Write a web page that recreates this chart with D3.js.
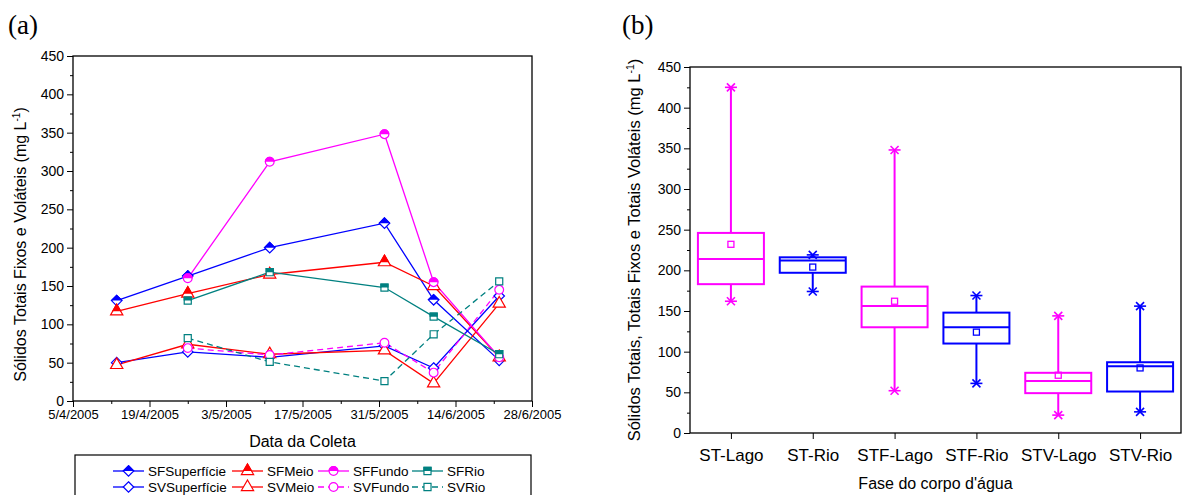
<!DOCTYPE html>
<html><head><meta charset="utf-8">
<script src="https://cdn.jsdelivr.net/npm/d3@7"></script>
<style>
body{margin:0;background:#fff;}
text{font-family:"Liberation Sans",Arial,sans-serif;fill:#000;}
</style></head>
<body><svg id="c" width="1182" height="495"></svg>
<script>
// ---------- data: panel (a) ----------
const dates = ["13/4/2005","26/4/2005","11/5/2005","1/6/2005","10/6/2005","22/6/2005"];
const dateTicks = ["5/4/2005","19/4/2005","3/5/2005","17/5/2005","31/5/2005","14/6/2005","28/6/2005"];
const SFSuperficie = [131,163,200,232,132,53];
const SVSuperficie = [50,64,57,72,43,137];
const SFMeio = [117,140,165,181,150,57];
const SVMeio = [47,74,61,66,23,127];
const SFFundo = [null,160,312,348,155,57];
const SVFundo = [null,69,60,76,37,145];
const SFRio = [null,131,168,148,110,61];
const SVRio = [null,82,51,26,87,156];
const yTicks = [0,50,100,150,200,250,300,350,400,450];

// ---------- data: panel (b) ----------
const boxCats = ["ST-Lago","ST-Rio","STF-Lago","STF-Rio","STV-Lago","STV-Rio"];
const boxMin = [162,174,52,61,22,26];
const boxQ1 = [183,197,130,110,49,51];
const boxMed = [214,212,156,130,64,82];
const boxQ3 = [246,216,180,148,74,87];
const boxMax = [425,219,348,169,144,156];
const boxMean = [232,204,162,124,71,80];

const svg = d3.select("#c");
const parse = d3.timeParse("%d/%m/%Y");
const BLUE="#0000FF", RED="#FF0000", MAG="#FF00FF", TEAL="#008080";

svg.append("defs").append("clipPath").attr("id","half").attr("clipPathUnits","userSpaceOnUse")
  .append("rect").attr("x",-10).attr("y",-10).attr("width",20).attr("height",10);

const symDiamond = {draw(ctx,size){const r=Math.sqrt(size/2);ctx.moveTo(0,-r);ctx.lineTo(r,0);ctx.lineTo(0,r);ctx.lineTo(-r,0);ctx.closePath();}};

// ---------- panel (a) ----------
const A = {l:73, r:532, t:56, b:401};
const xA = d3.scaleTime().domain([parse(dateTicks[0]), parse(dateTicks[dateTicks.length-1])]).range([A.l, A.r]);
const yA = d3.scaleLinear().domain([0,450]).range([A.b, A.t]);

svg.append("text").attr("x",8).attr("y",34).style("font-family","'Liberation Serif','Times New Roman',serif").style("font-size","27px").text("(a)");

const gA = svg.append("g");
gA.append("rect").attr("x",A.l).attr("y",A.t).attr("width",A.r-A.l).attr("height",A.b-A.t).attr("fill","none").attr("stroke","#000").attr("stroke-width",1.3);

const yAxA = gA.append("g").attr("transform",`translate(${A.l},0)`)
  .call(d3.axisLeft(yA).tickValues(yTicks).tickSize(6).tickPadding(3));
yAxA.select(".domain").remove();
yAxA.selectAll("text").style("font-size","14px").style("font-family","'Liberation Sans',Arial,sans-serif");
const yMinA = gA.append("g").attr("transform",`translate(${A.l},0)`)
  .call(d3.axisLeft(yA).tickValues(d3.range(25,450,50)).tickSize(3).tickFormat(""));
yMinA.select(".domain").remove();

const xTickDates = dateTicks.map(parse);
const xAxA = gA.append("g").attr("transform",`translate(0,${A.b})`)
  .call(d3.axisBottom(xA).tickValues(xTickDates).tickSize(6).tickPadding(3).tickFormat((d,i)=>dateTicks[i]));
xAxA.select(".domain").remove();
xAxA.selectAll("text").style("font-size","13px").style("font-family","'Liberation Sans',Arial,sans-serif");
const minorDates = xTickDates.slice(0,-1).map(d=>d3.timeDay.offset(d,7));
const xMinA = gA.append("g").attr("transform",`translate(0,${A.b})`)
  .call(d3.axisBottom(xA).tickValues(minorDates).tickSize(3).tickFormat(""));
xMinA.select(".domain").remove();

gA.append("text").attr("x",(A.l+A.r)/2).attr("y",447).attr("text-anchor","middle").style("font-size","16px").text("Data da Coleta");
const ylab = gA.append("text").attr("transform",`translate(26,${(A.t+A.b)/2+16}) rotate(-90)`).attr("text-anchor","middle").style("font-size","16px");
ylab.append("tspan").text("Sólidos Totais Fixos e Voláteis (mg L");
ylab.append("tspan").attr("dy",-6).style("font-size","10px").text("-1");
ylab.append("tspan").attr("dy",6).text(")");

const seriesA = [
  {label:"SFSuperfície", v:SFSuperficie, c:BLUE, sym:symDiamond, fill:true, dash:null, size:55},
  {label:"SVSuperfície", v:SVSuperficie, c:BLUE, sym:symDiamond, fill:false, dash:null, size:55},
  {label:"SFMeio", v:SFMeio, c:RED, sym:d3.symbolTriangle, fill:true, dash:null, size:65},
  {label:"SVMeio", v:SVMeio, c:RED, sym:d3.symbolTriangle, fill:false, dash:null, size:65},
  {label:"SFFundo", v:SFFundo, c:MAG, sym:d3.symbolCircle, fill:true, dash:null, size:60},
  {label:"SVFundo", v:SVFundo, c:MAG, sym:d3.symbolCircle, fill:false, dash:"6,4", size:60},
  {label:"SFRio", v:SFRio, c:TEAL, sym:d3.symbolSquare, fill:true, dash:null, size:50},
  {label:"SVRio", v:SVRio, c:TEAL, sym:d3.symbolSquare, fill:false, dash:"6,4", size:50}
];

function drawMarker(g, s){
  const p = d3.symbol().type(s.sym).size(s.size)();
  g.append("path").attr("d",p).attr("fill","#fff").attr("stroke",s.c).attr("stroke-width",1.2);
  if(s.fill){
    g.append("path").attr("d",p).attr("fill",s.c).attr("stroke",s.c).attr("stroke-width",1.2).attr("clip-path","url(#half)");
  }
}

const line = d3.line().defined(d=>d.v!=null).x(d=>xA(d.d)).y(d=>yA(d.v));
seriesA.forEach(s=>{
  const pts = dates.map((d,i)=>({d:parse(d), v:s.v[i]}));
  gA.append("path").attr("d",line(pts)).attr("fill","none").attr("stroke",s.c).attr("stroke-width",1.3)
    .attr("stroke-dasharray",s.dash);
});
seriesA.forEach(s=>{
  dates.forEach((d,i)=>{
    if(s.v[i]==null) return;
    const g = gA.append("g").attr("transform",`translate(${xA(parse(d))},${yA(s.v[i])})`);
    drawMarker(g,s);
  });
});

// legend
const leg = svg.append("g");
leg.append("rect").attr("x",75).attr("y",455).attr("width",456).attr("height",45).attr("fill","#fff").attr("stroke","#000").attr("stroke-width",1.2);
const legCols = [113,232,318,412];
const legRows = [471,487];
seriesA.forEach((s,i)=>{
  const col = Math.floor(i/2), row = i%2;
  const x0 = legCols[col], y0 = legRows[row];
  leg.append("line").attr("x1",x0).attr("x2",x0+31).attr("y1",y0).attr("y2",y0).attr("stroke",s.c).attr("stroke-width",1.3).attr("stroke-dasharray",s.dash);
  const g = leg.append("g").attr("transform",`translate(${x0+15.5},${y0})`);
  drawMarker(g,s);
  leg.append("text").attr("x",x0+35).attr("y",y0+5).style("font-size","13.5px").text(s.label);
});

// ---------- panel (b) ----------
const B = {l:690, r:1181, t:67, b:433};
const xB = d3.scalePoint().domain(boxCats).range([B.l,B.r]).padding(0.5);
const yB = d3.scaleLinear().domain([0,450]).range([B.b,B.t]);

svg.append("text").attr("x",622).attr("y",34).style("font-family","'Liberation Serif','Times New Roman',serif").style("font-size","27px").text("(b)");

const gB = svg.append("g");
gB.append("rect").attr("x",B.l).attr("y",B.t).attr("width",B.r-B.l).attr("height",B.b-B.t).attr("fill","none").attr("stroke","#000").attr("stroke-width",1.3);
const yAxB = gB.append("g").attr("transform",`translate(${B.l},0)`)
  .call(d3.axisLeft(yB).tickValues(yTicks).tickSize(6).tickPadding(3));
yAxB.select(".domain").remove();
yAxB.selectAll("text").style("font-size","14px").style("font-family","'Liberation Sans',Arial,sans-serif");
const yMinB = gB.append("g").attr("transform",`translate(${B.l},0)`)
  .call(d3.axisLeft(yB).tickValues(d3.range(25,450,50)).tickSize(3).tickFormat(""));
yMinB.select(".domain").remove();
const xAxB = gB.append("g").attr("transform",`translate(0,${B.b})`)
  .call(d3.axisBottom(xB).tickSize(6).tickPadding(10));
xAxB.select(".domain").remove();
xAxB.selectAll("text").style("font-size","17px").style("font-family","'Liberation Sans',Arial,sans-serif");

gB.append("text").attr("x",(B.l+B.r)/2).attr("y",489).attr("text-anchor","middle").style("font-size","16px").text("Fase do corpo d'água");
const ylabB = gB.append("text").attr("transform",`translate(640,${(B.t+B.b)/2}) rotate(-90)`).attr("text-anchor","middle").style("font-size","16.5px");
ylabB.append("tspan").text("Sólidos Totais, Totais Fixos e Totais Voláteis (mg L");
ylabB.append("tspan").attr("dy",-6).style("font-size","10.5px").text("-1");
ylabB.append("tspan").attr("dy",6).text(")");

const halfW = 33;
function star(g, cx, cy, c){
  g.append("line").attr("x1",cx-6).attr("x2",cx+6).attr("y1",cy).attr("y2",cy).attr("stroke",c).attr("stroke-width",1.6);
  g.append("line").attr("x1",cx-4).attr("x2",cx+4).attr("y1",cy-4).attr("y2",cy+4).attr("stroke",c).attr("stroke-width",1.6);
  g.append("line").attr("x1",cx-4).attr("x2",cx+4).attr("y1",cy+4).attr("y2",cy-4).attr("stroke",c).attr("stroke-width",1.6);
}
boxCats.forEach((cat,i)=>{
  const c = cat.endsWith("Lago") ? MAG : BLUE;
  const cx = xB(cat);
  const g = gB.append("g");
  g.append("line").attr("x1",cx).attr("x2",cx).attr("y1",yB(boxMax[i])).attr("y2",yB(boxQ3[i])).attr("stroke",c).attr("stroke-width",2);
  g.append("line").attr("x1",cx).attr("x2",cx).attr("y1",yB(boxQ1[i])).attr("y2",yB(boxMin[i])).attr("stroke",c).attr("stroke-width",2);
  g.append("rect").attr("x",cx-halfW).attr("y",yB(boxQ3[i])).attr("width",2*halfW).attr("height",yB(boxQ1[i])-yB(boxQ3[i]))
    .attr("fill","none").attr("stroke",c).attr("stroke-width",2);
  g.append("line").attr("x1",cx-halfW).attr("x2",cx+halfW).attr("y1",yB(boxMed[i])).attr("y2",yB(boxMed[i])).attr("stroke",c).attr("stroke-width",2);
  star(g,cx,yB(boxMax[i]),c);
  star(g,cx,yB(boxMin[i]),c);
  g.append("rect").attr("x",cx-3).attr("y",yB(boxMean[i])-3).attr("width",6).attr("height",6).attr("fill","none").attr("stroke",c).attr("stroke-width",1.3);
});
</script></body></html>
